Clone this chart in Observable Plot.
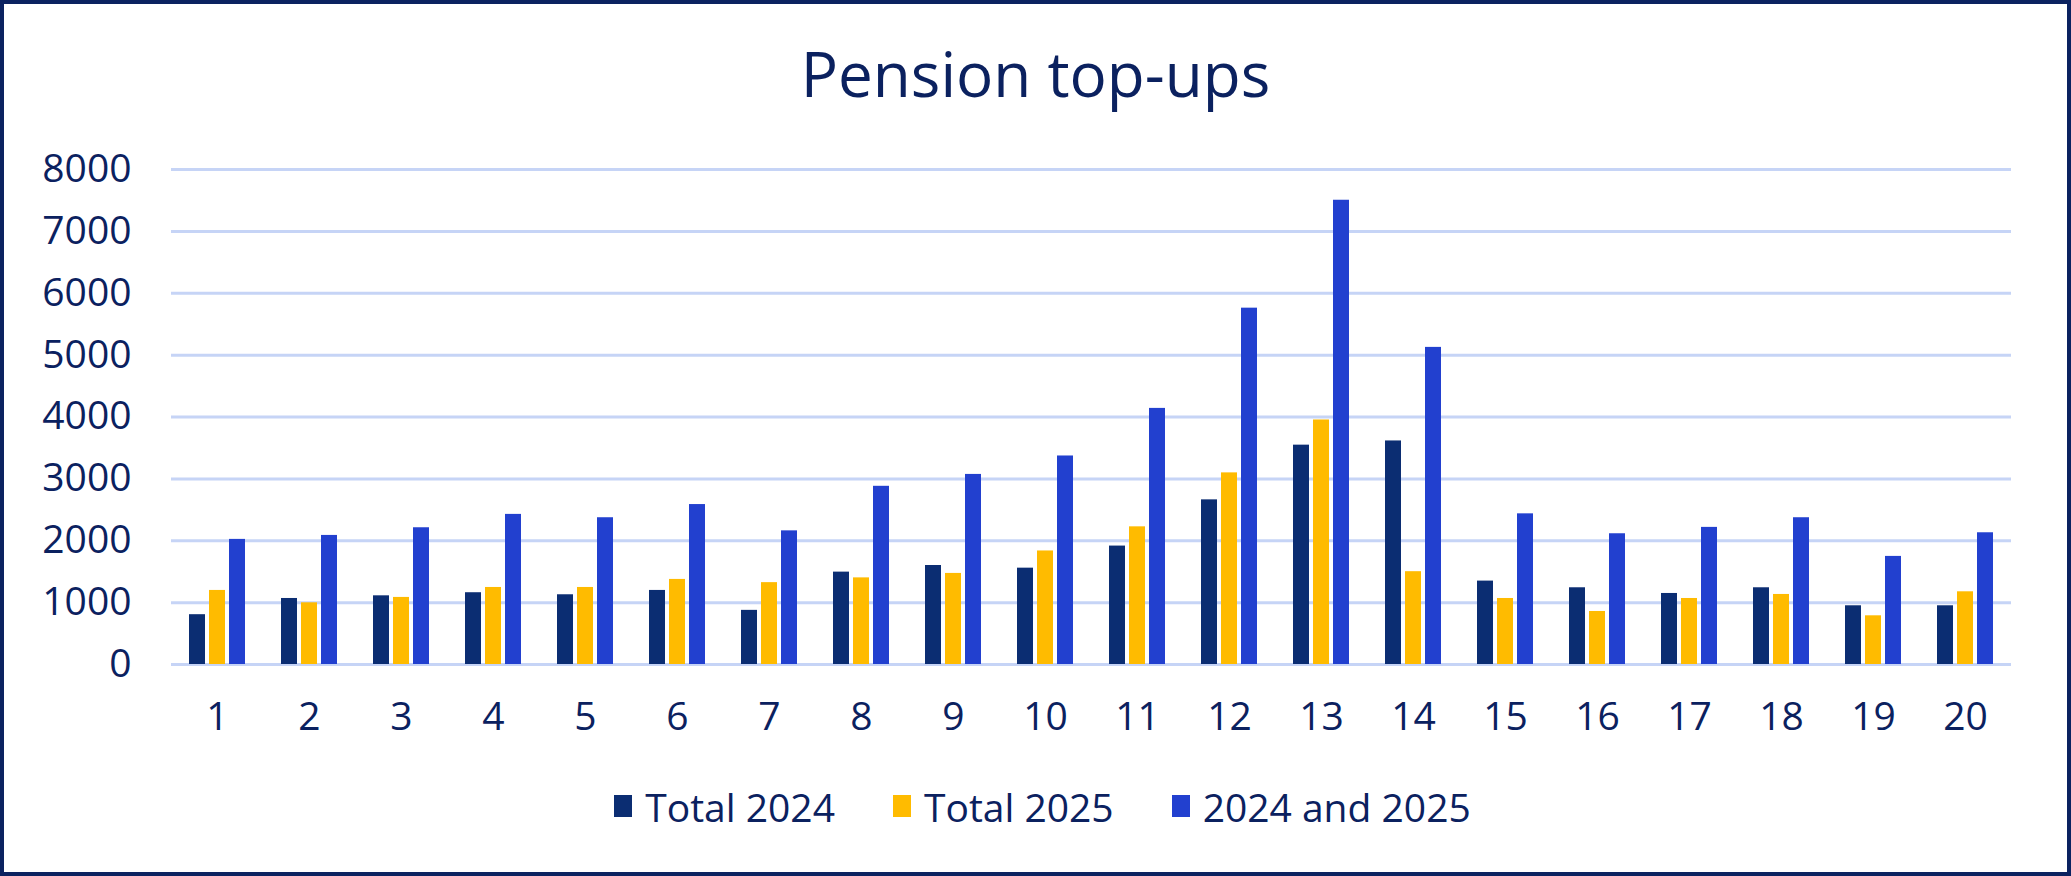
<!DOCTYPE html>
<html>
<head>
<meta charset="utf-8">
<script src="https://cdn.jsdelivr.net/npm/d3@7"></script>
<script src="https://cdn.jsdelivr.net/npm/@observablehq/plot@0.6"></script>
<style>
  html, body { margin: 0; padding: 0; background: #fff; }
  #page { position: relative; width: 2071px; height: 876px; overflow: hidden; font-family: "Open Sans", sans-serif; color: #0B215F; }
  #frame { position: absolute; left: 0; top: 0; width: 2071px; height: 876px; box-sizing: border-box; border: 4px solid #0B2260; pointer-events: none; }
  #title { position: absolute; left: 0; top: 30px; width: 2071px; text-align: center; font-size: 62px; line-height: 86px; font-weight: 400; }
  #chart { position: absolute; left: 0; top: 120px; }
  #legend { position: absolute; left: 0; top: 778px; width: 2071px; height: 56px; display: flex; justify-content: center; align-items: center; font-size: 39px; gap: 58px; padding-left: 14px; box-sizing: border-box; }
  .item { display: flex; align-items: center; }
  .sw { width: 18px; height: 22px; margin-right: 13px; }
</style>
</head>
<body>
<div id="page">
  <div id="title">Pension top-ups</div>
  <div id="chart"></div>
  <div id="legend"></div>
  <div id="frame"></div>
</div>
<script>
const categories = ["1","2","3","4","5","6","7","8","9","10","11","12","13","14","15","16","17","18","19","20"];
const seriesNames = ["Total 2024", "Total 2025", "2024 and 2025"];
const total2024 = [805, 1067, 1110, 1160, 1127, 1197, 875, 1493, 1600, 1557, 1914, 2661, 3545, 3613, 1348, 1240, 1148, 1240, 949, 949];
const total2025 = [1197, 997, 1084, 1245, 1245, 1375, 1323, 1400, 1472, 1835, 2225, 3097, 3952, 1500, 1067, 857, 1067, 1132, 787, 1175];
const both = [2022, 2086, 2210, 2426, 2372, 2585, 2160, 2880, 3072, 3370, 4139, 5759, 7503, 5125, 2435, 2113, 2216, 2372, 1747, 2129];
const yTicks = [0, 1000, 2000, 3000, 4000, 5000, 6000, 7000, 8000];
const colors = ["#0B2D72", "#FFBB00", "#2240CF"];

const seriesValues = [total2024, total2025, both];
const data = [];
categories.forEach((c, i) => {
  seriesNames.forEach((s, j) => data.push({cat: c, series: s, value: seriesValues[j][i]}));
});

const chart = Plot.plot({
  width: 2071,
  height: 624,
  marginLeft: 162,
  marginRight: 52,
  marginTop: 49,
  marginBottom: 80,
  style: {fontFamily: "Open Sans, sans-serif", fontSize: "39px", color: "#0B215F", background: "transparent"},
  fx: {domain: categories, padding: 0, axis: "bottom", tickSize: 0, tickPadding: 38, label: null},
  x: {domain: seriesNames, paddingInner: 0.214, paddingOuter: 0.82, axis: null},
  y: {domain: [0, 8000], ticks: yTicks, tickFormat: d => String(d), tickSize: 0, tickPadding: 40, label: null},
  color: {domain: seriesNames, range: colors},
  marks: [
    Plot.ruleY(yTicks, {stroke: "#C6D4F6", strokeWidth: 3}),
    Plot.barY(data, {fx: "cat", x: "series", y: "value", fill: "series"})
  ]
});
document.getElementById("chart").appendChild(chart);

const legend = document.getElementById("legend");
seriesNames.forEach((s, j) => {
  const it = document.createElement("div");
  it.className = "item";
  const sw = document.createElement("div");
  sw.className = "sw";
  sw.style.background = colors[j];
  const t = document.createElement("span");
  t.textContent = s;
  it.appendChild(sw); it.appendChild(t);
  legend.appendChild(it);
});
</script>
</body>
</html>
